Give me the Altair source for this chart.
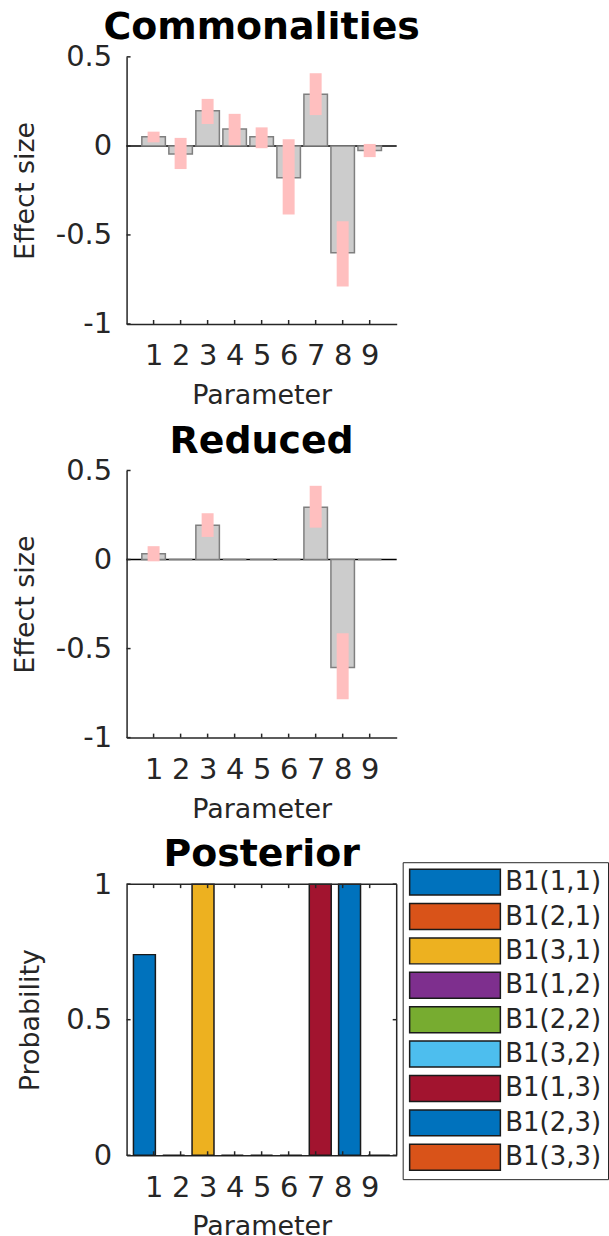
import altair as alt
import pandas as pd

# ---------------- data ----------------
params = [1, 2, 3, 4, 5, 6, 7, 8, 9]
x_ticks = [1, 2, 3, 4, 5, 6, 7, 8, 9]
effect_ticks = [0.5, 0, -0.5, -1]
prob_ticks = [0, 0.5, 1]

comm_effect = [0.052, -0.045, 0.197, 0.095, 0.052, -0.179, 0.290, -0.600, -0.026]
comm_ci_lo = [0.020, -0.130, 0.123, 0.004, -0.013, -0.385, 0.173, -0.790, -0.063]
comm_ci_hi = [0.080, 0.045, 0.264, 0.180, 0.104, 0.037, 0.408, -0.423, 0.011]

red_effect = [0.032, 0, 0.192, 0, 0, 0, 0.293, -0.606, 0]
red_ci_lo = [-0.010, 0, 0.127, 0, 0, 0, 0.179, -0.785, 0]
red_ci_hi = [0.075, 0, 0.260, 0, 0, 0, 0.414, -0.414, 0]

posterior = [0.74, 0, 1, 0, 0, 0, 1, 1, 0]
legend_labels = ["B1(1,1)", "B1(2,1)", "B1(3,1)", "B1(1,2)", "B1(2,2)",
                 "B1(3,2)", "B1(1,3)", "B1(2,3)", "B1(3,3)"]
series_colors = ["#0072BD", "#D95319", "#EDB120", "#7E2F8E", "#77AC30",
                 "#4DBEEE", "#A2142F", "#0072BD", "#D95319"]

# ---------------- style ----------------
FONT = "DejaVu Sans"
W = 271
H1 = 268
H3 = 272
AX = "#262626"
TICK_FS = 29
LAB_FS = 27
TITLE_FS = 38

xs = alt.Scale(domain=[0, 10], nice=False, zero=False, padding=0)


def x_axis():
    return alt.Axis(values=x_ticks, title="Parameter", tickSize=0, labelPadding=18,
                    titlePadding=12, grid=False, domainColor=AX, domainWidth=1.5,
                    labelFontSize=TICK_FS, titleFontSize=LAB_FS, labelColor=AX,
                    titleColor=AX, titleFontWeight="normal", format="d",
                    labelFont=FONT, titleFont=FONT)


def y_axis(title, values, tp):
    return alt.Axis(values=values, title=title, tickSize=0, labelPadding=15,
                    titlePadding=tp, grid=False, domainColor=AX, domainWidth=1.5,
                    labelFontSize=TICK_FS, titleFontSize=LAB_FS, labelColor=AX,
                    titleColor=AX, titleFontWeight="normal",
                    labelExpr="toString(datum.value)",
                    labelFont=FONT, titleFont=FONT)


def inner_ticks(xa, ys, ya, h, yvals, box=False):
    xt = pd.DataFrame({"t": x_ticks})
    yt = pd.DataFrame({"t": yvals})
    layers = [
        alt.Chart(xt).mark_rule(color=AX, strokeWidth=1.5).encode(
            x=alt.X("t:Q", scale=xs, axis=xa), y=alt.value(h), y2=alt.value(h - 4)),
        alt.Chart(yt).mark_rule(color=AX, strokeWidth=1.5).encode(
            y=alt.Y("t:Q", scale=ys, axis=ya), x=alt.value(0), x2=alt.value(4)),
    ]
    if box:
        layers += [
            alt.Chart(xt).mark_rule(color=AX, strokeWidth=1.5).encode(
                x=alt.X("t:Q", scale=xs, axis=xa), y=alt.value(0), y2=alt.value(4)),
            alt.Chart(yt).mark_rule(color=AX, strokeWidth=1.5).encode(
                y=alt.Y("t:Q", scale=ys, axis=ya), x=alt.value(W), x2=alt.value(W - 4)),
        ]
    return layers


def title_of(text):
    return alt.TitleParams(text, fontSize=TITLE_FS, fontWeight="bold", font=FONT,
                           color="black", anchor="middle", frame="group", offset=-4)


def effect_panel(title, eff, lo, hi):
    df = pd.DataFrame({"param": params, "effect": eff, "lo": lo, "hi": hi})
    ys = alt.Scale(domain=[-1, 0.5], nice=False, zero=False, padding=0)
    xa = x_axis()
    ya = y_axis("Effect size", effect_ticks, 16)
    zero = alt.Chart(pd.DataFrame({"z": [0]})).mark_rule(color="black", strokeWidth=1.5).encode(
        y=alt.Y("z:Q", scale=ys, axis=ya), x=alt.value(0), x2=alt.value(W))
    gray = alt.Chart(df).mark_bar(size=23.6, fill="#cccccc", stroke="#7f7f7f",
                                  strokeWidth=1.5).encode(
        x=alt.X("param:Q", scale=xs, axis=xa),
        y=alt.Y("effect:Q", scale=ys, axis=ya),
        y2=alt.datum(0))
    pink = alt.Chart(df).mark_bar(size=12, color="#ffbfbf").encode(
        x=alt.X("param:Q", scale=xs, axis=xa),
        y=alt.Y("lo:Q", scale=ys, axis=ya),
        y2="hi:Q")
    layers = [zero, gray, pink] + inner_ticks(xa, ys, ya, H1, effect_ticks)
    return alt.layer(*layers).properties(width=W, height=H1, title=title_of(title))


p1 = effect_panel("Commonalities", comm_effect, comm_ci_lo, comm_ci_hi)
p2 = effect_panel("Reduced", red_effect, red_ci_lo, red_ci_hi)

# posterior panel
pdf = pd.DataFrame({"param": params, "prob": posterior, "label": legend_labels})
ys3 = alt.Scale(domain=[0, 1], nice=False, zero=False, padding=0)
xa3 = x_axis()
ya3 = y_axis("Probability", prob_ticks, 21)
post_bars = alt.Chart(pdf).transform_calculate(
    xc="datum.param + (datum.param - 5) * 0.085"
).mark_bar(size=22, stroke="#1a1a1a", strokeWidth=1.5).encode(
    x=alt.X("xc:Q", scale=xs, axis=xa3),
    y=alt.Y("prob:Q", scale=ys3, axis=ya3),
    y2=alt.datum(0),
    color=alt.Color("label:N", scale=alt.Scale(domain=legend_labels, range=series_colors),
                    legend=alt.Legend(
                        title=None, orient="none", legendX=277, legendY=808,
                        symbolType="M-1,-1L6,-1L6,1L-1,1Z",
                        symbolSize=676, symbolStrokeColor="#1a1a1a",
                        symbolStrokeWidth=1.5, symbolOpacity=1,
                        labelFontSize=26, labelFont=FONT, labelColor=AX,
                        labelOffset=69, rowPadding=2.5, padding=6,
                        strokeColor=AX, labelLimit=200)))
box = alt.Chart(pd.DataFrame({"t": [0]})).mark_rule(color=AX, strokeWidth=1.5).encode(
    x=alt.value(0), x2=alt.value(W), y=alt.value(0))
box_r = alt.Chart(pd.DataFrame({"t": [0]})).mark_rule(color=AX, strokeWidth=1.5).encode(
    x=alt.value(W), y=alt.value(0), y2=alt.value(H3))
p3 = alt.layer(post_bars, box, box_r,
               *inner_ticks(xa3, ys3, ya3, H3, prob_ticks, box=True)).properties(
    width=W, height=H3, title=title_of("Posterior"))

chart = alt.vconcat(p1, p2, p3, spacing=14).properties(
    padding={"left": 11, "top": 7, "right": 0, "bottom": 0}
).configure(font=FONT).configure_view(stroke=None)

chart.save("out.html", embed_options={"renderer": "svg", "actions": False})
